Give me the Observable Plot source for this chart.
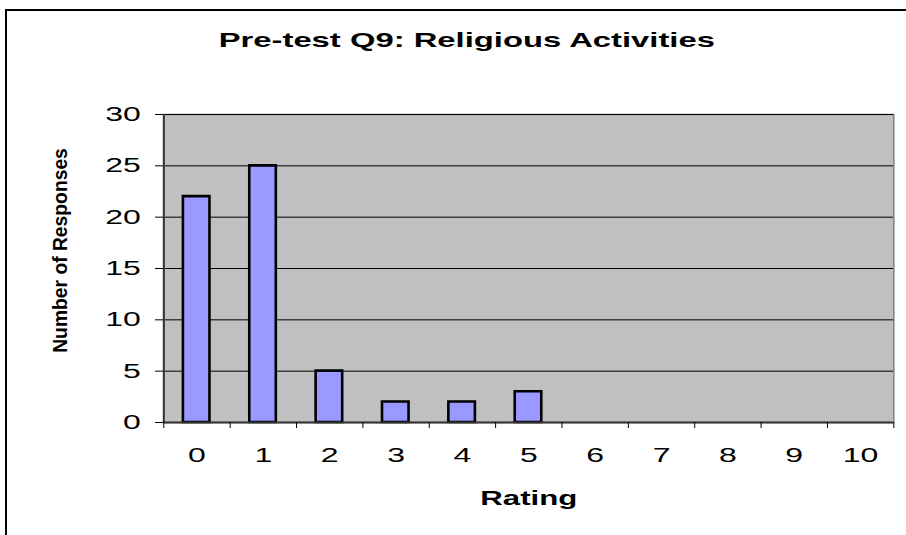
<!DOCTYPE html>
<html>
<head>
<meta charset="utf-8">
<script src="https://cdn.jsdelivr.net/npm/d3@7"></script>
<script src="https://cdn.jsdelivr.net/npm/@observablehq/plot@0.6"></script>
<style>
  html, body { margin: 0; padding: 0; background: #fff; overflow: hidden; width: 906px; height: 535px; }
  #wrap { position: relative; width: 906px; height: 535px; overflow: hidden; }
  #border { position: absolute; left: 5px; top: 9px; width: 1000px; height: 700px; border: 2px solid #000; box-sizing: border-box; pointer-events: none; }
  #chart { position: absolute; left: 0; top: 0; }
  #chart svg * { vector-effect: non-scaling-stroke; }
  #ylab { position: absolute; left: 0; top: 0; }
</style>
</head>
<body>
<div id="wrap">
  <div id="border"></div>
  <div id="chart"></div>
</div>
<script>
// ---- data ----
const title = "Pre-test Q9: Religious Activities";
const xLabel = "Rating";
const yLabel = "Number of Responses";
const ratings = [0, 1, 2, 3, 4, 5, 6, 7, 8, 9, 10];
const responses = [22, 25, 5, 2, 2, 3, 0, 0, 0, 0, 0];
const yTicks = [0, 5, 10, 15, 20, 25, 30];

// ---- layout (the original picture is stretched horizontally) ----
const S = 1.6;               // horizontal stretch factor
const W = 906, H = 535;
const font = "'Liberation Sans', Arial, sans-serif";

const data = ratings.map((r, i) => ({r, n: responses[i]})).filter(d => d.n > 0);
const xDomain = [ratings[0] - 0.5, ratings[ratings.length - 1] + 0.5];
const boundaries = ratings.map(r => r - 0.5).concat([xDomain[1]]);
const half = 0.2; // bar half-width in category units (gap width 150%)

const plot = Plot.plot({
  width: W / S,
  height: H,
  marginLeft: 163 / S,
  marginRight: 13 / S,
  marginTop: 114,
  marginBottom: 113,
  style: {fontFamily: font, fontSize: "20px", color: "#000", background: "transparent", overflow: "visible"},
  x: {domain: xDomain, axis: null},
  y: {domain: [0, 30], axis: null},
  marks: [
    Plot.frame({fill: "#C0C0C0", stroke: "#808080", strokeWidth: 1.5}),
    Plot.ruleY(yTicks.filter(t => t > 0), {stroke: "#000", strokeWidth: 1}),
    Plot.rectY(data, {x1: d => d.r - half, x2: d => d.r + half, y: "n", fill: "#9999FF", stroke: "#000", strokeWidth: 2.6}),
    Plot.ruleX([xDomain[0]], {stroke: "#333", strokeWidth: 2}),
    Plot.ruleY([0], {stroke: "#333", strokeWidth: 2}),
    Plot.axisY({ticks: yTicks, tickSize: 5, tickPadding: 9.4, label: null, stroke: "#000", fontSize: 20}),
    Plot.axisX({ticks: boundaries, tickSize: 6, tickFormat: () => "", label: null, stroke: "#000"}),
    Plot.axisX({ticks: ratings, tickSize: 0, tickPadding: 25, tickFormat: d => String(d), label: null, fontSize: 20}),
    Plot.text([title], {frameAnchor: "top", dx: -62 / S, dy: -74, lineAnchor: "middle", fontSize: 20.5, fontWeight: "bold", fill: "#000"}),
    Plot.text([xLabel], {frameAnchor: "bottom", dy: 76.5, lineAnchor: "middle", fontSize: 19.5, fontWeight: "bold", fill: "#000"})
  ]
});

plot.setAttribute("width", W);
plot.setAttribute("height", H);
plot.setAttribute("preserveAspectRatio", "none");
plot.style.maxWidth = "none";
plot.style.width = W + "px";
plot.style.height = H + "px";
document.getElementById("chart").appendChild(plot);

// y-axis title: rendered unstretched, as in the original
const ns = "http://www.w3.org/2000/svg";
const ysvg = document.createElementNS(ns, "svg");
ysvg.setAttribute("id", "ylab");
ysvg.setAttribute("width", 140);
ysvg.setAttribute("height", H);
ysvg.style.position = "absolute";
ysvg.style.left = "0px";
ysvg.style.top = "0px";
const yt = document.createElementNS(ns, "text");
yt.setAttribute("transform", "translate(67,250.5) rotate(-90)");
yt.setAttribute("text-anchor", "middle");
yt.setAttribute("font-family", font);
yt.setAttribute("font-size", "19.3");
yt.setAttribute("font-weight", "bold");
yt.setAttribute("fill", "#000");
yt.textContent = yLabel;
ysvg.appendChild(yt);
document.getElementById("wrap").appendChild(ysvg);
</script>
</body>
</html>
